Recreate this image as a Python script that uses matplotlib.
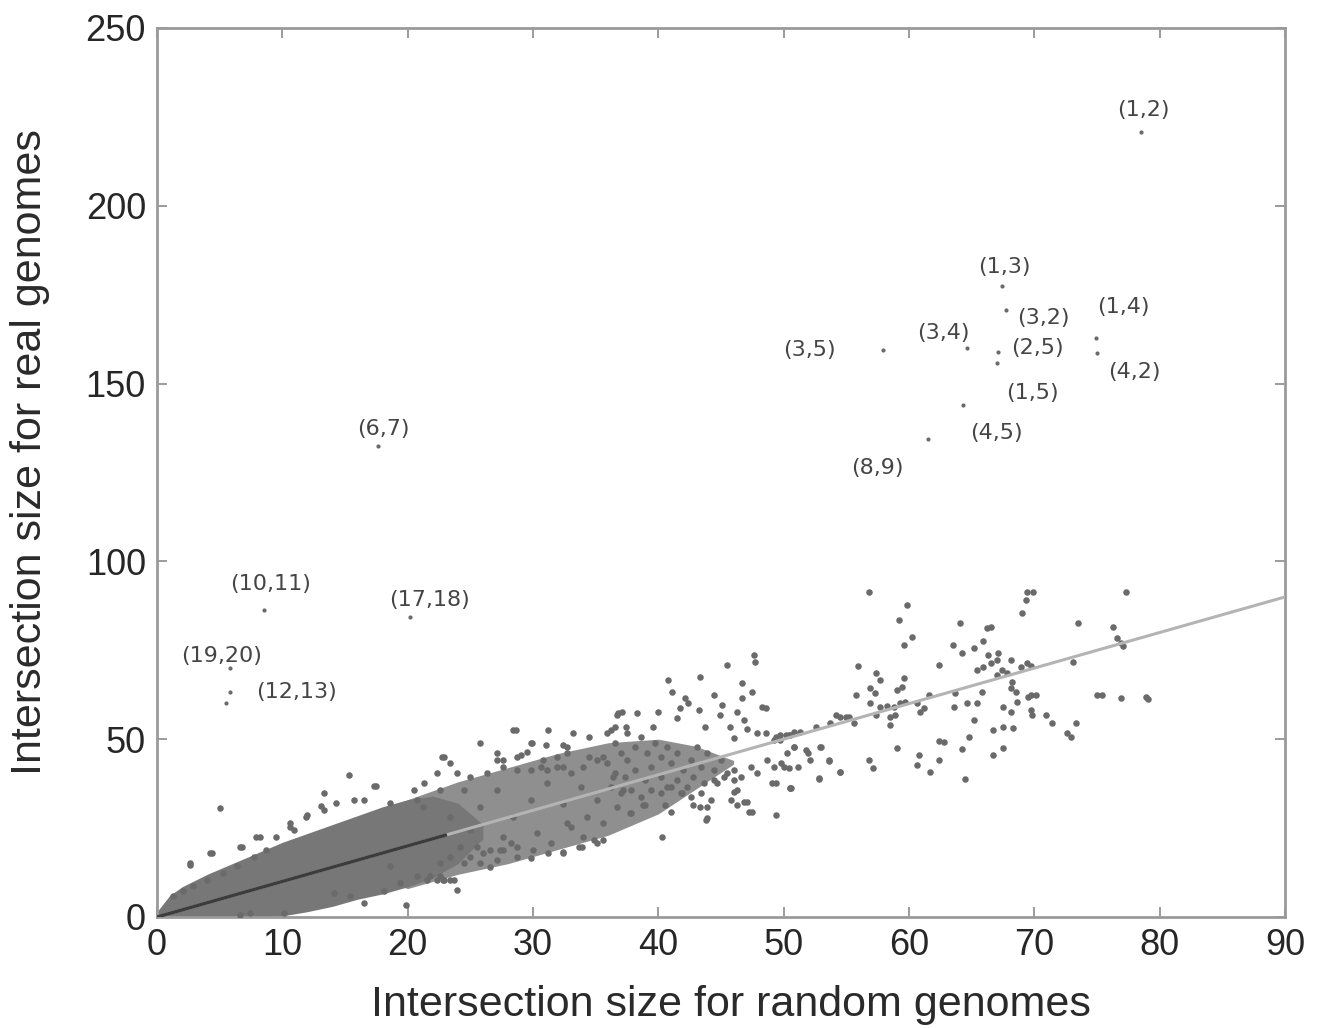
import numpy as np
import matplotlib
matplotlib.use("Agg")
import matplotlib.pyplot as plt

# ---- data ----
# dense core of the cloud (envelope of the solid grey mass)
core_x = [0, 1, 2, 4, 6, 8, 10, 12, 14, 16, 18, 20, 22, 24, 26]
core_hi = [1.5, 6, 8.5, 12, 15, 18, 21, 23.5, 26, 28.5, 31, 33, 34, 32, 26]
core_lo = [0, 0, 0, 0, 0, 0, 0.3, 1.5, 3, 5, 6.5, 8.5, 11, 15, 22]

# speckled band where the cloud starts to thin out
band_x = [18, 20, 24, 28, 32, 36, 40, 43, 46]
band_hi = [28, 33, 38, 42, 46, 49, 50, 48, 44]
band_lo = [10, 8, 12, 15, 19, 23, 29, 36, 43]

# individual points around the core and in the sparse tail
fringe_pts = [
    (5.0, 30.6), (2.6, 14.7), (4.4, 17.9), (6.8, 19.8), (8.2, 22.6), (10.6, 25.4),
    (12.0, 28.7), (13.3, 34.8), (15.3, 40.0), (13.1, 31.1), (14.3, 32.0), (15.7, 33.0),
    (17.3, 36.7), (18.6, 32.0), (20.5, 35.7), (21.3, 37.6), (22.7, 45.1), (22.3, 40.4),
    (16.5, 3.9), (19.9, 3.4), (18.6, 14.2), (21.8, 11.4), (22.8, 10.4),
    (10.9, 24.5), (9.5, 22.6), (8.7, 18.9), (7.7, 17.0), (6.4, 14.2), (5.3, 12.3),
    (4.0, 10.4), (2.9, 8.6), (2.1, 7.2), (1.3, 5.8),
    (14.1, 6.7), (15.4, 5.8), (18.1, 7.2), (19.4, 9.5), (20.7, 11.4), (10.1, 1.1),
    (7.4, 1.1), (6.6, 0.6), (2.6, 15.1), (4.2, 17.9), (6.6, 19.8), (7.9, 22.6),
    (10.6, 26.4), (11.9, 28.2), (13.3, 30.1), (17.5, 36.7), (16.5, 32.9),
    (20.7, 32.9), (21.2, 31.0), (23.9, 40.4), (25.0, 39.5), (27.1, 44.2), (27.6, 42.3),
    (28.7, 45.1), (30.8, 44.2), (31.9, 42.3), (32.7, 47.9), (23.9, 7.6), (22.6, 11.4),
    (23.4, 10.4), (21.5, 10.4), (26.0, 17.9), (27.4, 18.9), (28.7, 19.8), (30.0, 18.9),
    (31.4, 20.7), (32.4, 17.9), (33.7, 19.8), (35.1, 20.7), (32.7, 26.4), (34.0, 22.6),
    (28.6, 52.6), (31.2, 52.6), (33.2, 51.6), (34.5, 50.7), (25.8, 48.8), (29.8, 48.8),
    (31.0, 48.3), (22.9, 45.1), (23.4, 43.2), (27.1, 46.0), (27.6, 44.1), (29.0, 45.5),
    (29.5, 46.5), (32.4, 48.3), (32.7, 46.0), (36.7, 56.8), (37.1, 57.7), (36.2, 52.6),
    (36.5, 53.5), (37.5, 51.6), (29.8, 41.3), (30.6, 42.2), (31.1, 41.3), (31.9, 45.1),
    (32.4, 42.2), (34.5, 45.1), (35.1, 44.1), (34.0, 42.2),
    (22.3, 10.4), (22.9, 10.4), (23.7, 10.4), (26.6, 14.1), (27.1, 16.0), (28.7, 16.9),
    (29.8, 16.5), (31.2, 17.9), (32.4, 18.3), (33.9, 19.8), (34.9, 21.6), (35.6, 21.6),
    (35.6, 26.3), (26.6, 18.8), (27.6, 18.8), (28.2, 20.7), (25.5, 19.7), (25.0, 16.9),
    (24.2, 19.7), (23.4, 16.9), (22.6, 15.1), (24.5, 15.1), (25.8, 15.1),
    (24.5, 35.7), (25.8, 31.0), (27.1, 35.7), (28.4, 28.2), (29.8, 32.9), (31.1, 37.6),
    (32.4, 31.9), (33.8, 36.6), (35.1, 32.9), (36.4, 39.4), (37.2, 35.7), (25.0, 24.4),
    (27.6, 22.6), (30.3, 23.5), (33.0, 25.4), (34.3, 28.2), (36.7, 31.0), (23.4, 28.2),
    (22.6, 35.7), (26.3, 40.4), (28.7, 41.3), (33.0, 40.4), (35.6, 45.1),
]

mid_pts = [
    (47.6, 73.7), (47.7, 71.8), (45.5, 70.9), (43.3, 67.6), (40.8, 66.6), (41.1, 63.4),
    (46.7, 65.7), (47.5, 63.4), (46.7, 61.5), (44.4, 62.4), (42.1, 61.5), (42.4, 60.1),
    (48.3, 59.1), (48.6, 58.7), (45.1, 59.6), (44.9, 56.8), (46.3, 57.7), (46.8, 55.4),
    (43.2, 58.2), (40.0, 57.7), (38.3, 57.3), (36.8, 57.3), (41.7, 58.7), (41.5, 55.9),
    (43.7, 53.5), (37.4, 53.5), (39.6, 53.5), (49.7, 51.2), (50.5, 51.2), (49.2, 49.8),
    (48.6, 51.7), (47.1, 53.0), (47.9, 51.7), (45.7, 53.5), (46.0, 50.2),
    (35.9, 51.6), (36.5, 48.8), (37.0, 46.0), (37.5, 44.1), (38.1, 47.9), (38.6, 50.7),
    (39.1, 46.0), (39.7, 48.8), (40.2, 45.1), (40.7, 47.9), (41.0, 43.2), (41.5, 46.0),
    (42.0, 41.3), (42.6, 44.1), (43.1, 47.9), (43.4, 42.3), (43.9, 46.0), (44.4, 41.3),
    (45.0, 44.1), (45.5, 40.4), (35.9, 43.2), (36.5, 40.4), (37.3, 39.5), (38.1, 41.3),
    (38.9, 38.5), (39.4, 42.3), (40.2, 39.5), (40.7, 36.6), (41.5, 38.5), (42.3, 36.6),
    (42.8, 39.5), (43.6, 37.6), (44.4, 38.5), (45.2, 39.5), (46.0, 41.3), (46.6, 39.5),
    (47.4, 42.3), (47.9, 40.4), (48.7, 44.1), (49.2, 42.3), (49.8, 43.2), (50.3, 46.0),
    (50.8, 47.9), (51.1, 42.3), (36.2, 36.6), (37.0, 34.8), (37.8, 35.7), (38.6, 33.8),
    (39.4, 35.7), (40.2, 34.8), (41.0, 36.6), (41.8, 34.8), (42.6, 33.8), (43.4, 34.8),
    (44.2, 32.9), (38.9, 31.5), (40.5, 31.5), (37.8, 29.1), (41.0, 29.6), (41.9, 34.8),
    (42.8, 31.5), (43.9, 31.0), (45.8, 32.9), (46.3, 31.5), (47.1, 32.4), (46.0, 35.2),
    (47.5, 29.6), (43.8, 27.3), (49.4, 28.7), (50.6, 36.2), (49.1, 37.6), (50.0, 42.3),
    (40.3, 22.6), (49.4, 50.7), (50.2, 51.2), (50.8, 52.1), (51.3, 52.1), (52.6, 53.5),
    (53.7, 54.5), (54.5, 56.3), (55.0, 56.3), (51.8, 47.0), (52.9, 47.9), (53.6, 44.2),
    (52.8, 39.0), (54.5, 40.9), (49.4, 37.6), (50.5, 36.2), (46.8, 32.4), (47.2, 29.6),
    (46.3, 35.7), (43.9, 27.8), (37.7, 29.2), (38.8, 31.5), (43.3, 31.0), (44.7, 37.6),
    (46.0, 38.5), (28.4, 52.6), (29.9, 48.8),
]

tail_pts = [
    (56.8, 91.5), (59.8, 87.7), (59.2, 83.5), (60.2, 78.7), (59.6, 76.4), (64.1, 82.8),
    (66.2, 81.2), (66.5, 81.6), (65.9, 77.6), (63.5, 76.4), (65.2, 75.6), (64.2, 74.3),
    (69.3, 89.1), (69.0, 85.4), (69.4, 91.5), (55.9, 70.6), (62.4, 70.8), (57.4, 68.5),
    (57.7, 66.6), (59.6, 67.1), (59.4, 64.8), (56.9, 64.3), (57.3, 62.9), (55.8, 62.4),
    (56.9, 60.1), (57.7, 59.1), (58.2, 59.3), (58.8, 59.1), (59.3, 60.1), (59.7, 60.5),
    (57.4, 56.8), (58.5, 56.3), (58.9, 56.8), (58.5, 54.0), (60.6, 60.1), (61.2, 58.7),
    (60.9, 57.7), (61.6, 62.4), (63.7, 62.9), (63.6, 59.1), (64.6, 60.3), (65.4, 60.3),
    (65.8, 63.4), (65.4, 69.5), (65.9, 70.4), (66.5, 71.3), (67.0, 72.3), (67.4, 69.5),
    (67.0, 68.1), (67.8, 68.5), (68.2, 66.2), (68.1, 64.3), (68.5, 63.4), (66.3, 73.7),
    (67.1, 74.2), (68.1, 72.3), (68.9, 70.4), (65.2, 55.4), (67.5, 59.1), (68.1, 57.7),
    (68.6, 60.5), (66.7, 52.6), (67.5, 53.5), (64.8, 50.7), (62.4, 49.5), (62.8, 49.3),
    (64.2, 47.2), (67.5, 47.4), (66.7, 45.6), (59.0, 47.4), (60.8, 45.6), (60.6, 42.7),
    (62.4, 44.2), (61.7, 40.9), (64.5, 38.7), (56.8, 44.2), (57.1, 41.8), (54.5, 40.9),
    (52.8, 38.8), (53.6, 43.9), (50.5, 36.2), (50.4, 41.8), (51.9, 46.0), (52.1, 44.2),
    (53.0, 47.9), (50.8, 47.9), (49.7, 49.8), (50.4, 51.2), (54.2, 56.8), (55.2, 56.3),
    (55.6, 54.5), (68.3, 53.1), (69.5, 61.9), (59.0, 63.8), (69.9, 91.5),
    (77.3, 91.5), (73.5, 82.8), (76.3, 81.5), (76.6, 78.4), (76.9, 77.0), (77.1, 76.2),
    (69.4, 71.3), (69.7, 70.6), (73.1, 71.8), (69.7, 62.4), (70.1, 62.4), (75.0, 62.4),
    (75.4, 62.4), (76.9, 61.5), (78.9, 61.9), (79.1, 61.2), (69.7, 58.2), (69.8, 56.8),
    (70.9, 56.8), (71.4, 54.6), (73.3, 54.6), (72.6, 51.7), (72.9, 50.7),
]

# chromosome pairs flagged as outliers
pair_names = ["(1,2)", "(1,3)", "(3,2)", "(2,5)", "(1,5)", "(3,4)", "(3,5)", "(1,4)",
              "(4,2)", "(4,5)", "(8,9)", "(6,7)", "(10,11)", "(17,18)", "(19,20)", "(12,13)"]
pair_x = [78.5, 67.4, 67.7, 67.1, 67.0, 64.6, 57.9, 74.9, 75.0, 64.3, 61.5,
          17.6, 8.5, 20.2, 5.8, 5.8]
pair_y = [220.8, 177.3, 170.7, 158.9, 155.8, 160.0, 159.4, 162.8, 158.6, 144.0, 134.4,
          132.5, 86.3, 84.4, 70.0, 63.3]
extra_x = [5.5]     # second dot of the (12,13) pair
extra_y = [60.2]

fit_x = [0, 90]
fit_y = [0, 90]
dense_fit_x = [0, 23]

x_ticks = list(range(0, 91, 10))
y_ticks = list(range(0, 251, 50))

# ---- drawing ----
label_offsets = {  # label placement in points relative to each dot
    "(1,2)": (2, 16), "(1,3)": (2, 14), "(3,2)": (27, -6), "(2,5)": (28, 3),
    "(1,5)": (26, -22), "(3,4)": (-17, 11), "(3,5)": (-53, 0), "(1,4)": (20, 22),
    "(4,2)": (27, -14), "(4,5)": (24, -20), "(8,9)": (-36, -21), "(6,7)": (4, 12),
    "(10,11)": (5, 19), "(17,18)": (14, 12), "(19,20)": (-6, 9), "(12,13)": (48, 0),
}

dot_color = "#6a6a6a"
label_font = ["Liberation Sans Narrow", "DejaVu Sans Condensed", "Liberation Sans"]

fig = plt.figure(figsize=(13.21, 10.28), dpi=100)
ax = fig.add_axes([0.1189, 0.108, 0.8539, 0.8648])

ax.fill_between(band_x, band_lo, band_hi, color="#8f8f8f", lw=0, zorder=1)
ax.fill_between(core_x, core_lo, core_hi, color="#777777", lw=0, zorder=2)

for pts in (fringe_pts, mid_pts, tail_pts):
    arr = np.array(pts)
    ax.scatter(arr[:, 0], arr[:, 1], s=22, color=dot_color, lw=0, zorder=3)

ax.plot(fit_x, fit_y, color="#b4b4b4", lw=2.2, zorder=4)
ax.plot(dense_fit_x, dense_fit_x, color="#3c3c3c", lw=2.4, zorder=4)

ax.scatter(pair_x, pair_y, s=9, color=dot_color, lw=0, zorder=5)
ax.scatter(extra_x, extra_y, s=9, color=dot_color, lw=0, zorder=5)
for name, px, py in zip(pair_names, pair_x, pair_y):
    ax.annotate(name, (px, py), xytext=label_offsets[name], textcoords="offset points",
                ha="center", va="center", fontsize=16, color="#454545",
                family="DejaVu Sans", zorder=6)

ax.set_xlim(0, 90)
ax.set_ylim(0, 250)
ax.set_xticks(x_ticks)
ax.set_yticks(y_ticks)
ax.tick_params(direction="in", length=7, width=1.2, color="#8a8a8a",
               top=True, right=True, labelsize=26, labelcolor="#262626", pad=8)
for lab in ax.get_xticklabels() + ax.get_yticklabels():
    lab.set_family("Liberation Sans")
for sp in ax.spines.values():
    sp.set_color("#9a9a9a")
    sp.set_linewidth(2)

ax.set_xlabel("Intersection size for random genomes", fontsize=31, color="#2a2a2a",
              family=label_font)
ax.set_ylabel("Intersection size for real genomes", fontsize=31, color="#2a2a2a",
              family=label_font)
ax.xaxis.set_label_coords(0.509, -0.077)
ax.yaxis.set_label_coords(-0.095, 0.523)

fig.savefig("out.png", dpi=100)
